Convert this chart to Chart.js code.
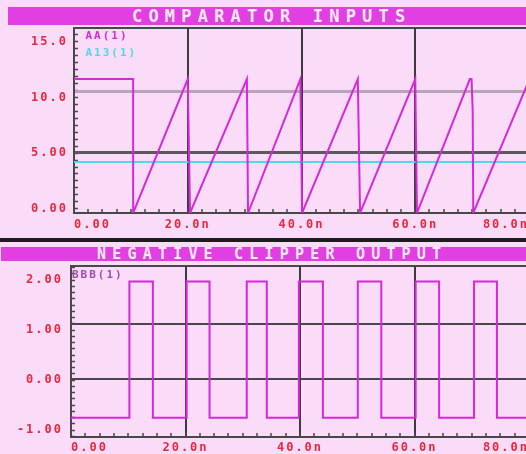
<!DOCTYPE html>
<html>
<head>
<meta charset="utf-8">
<script src="https://cdn.jsdelivr.net/npm/chart.js@4.4.0/dist/chart.umd.min.js"></script>
<style>
  body { margin: 0; background: #fadbf8; }
  #screen { position: relative; width: 526px; height: 454px; overflow: hidden; background: #fadbf8; }
  .bar { position: absolute; background: #e23fe2; color: #fde9fc; font-family: 'DejaVu Sans Mono', monospace; font-weight: bold; white-space: nowrap; }
  #bar1 { left: 8px; top: 7px; width: 518px; height: 18px; font-size: 17px; line-height: 18px; letter-spacing: 6.2px; padding-left: 124px; box-sizing: border-box; }
  #bar2 { left: 1px; top: 247px; width: 525px; height: 14px; font-size: 15px; line-height: 14px; letter-spacing: 6.2px; padding-left: 96px; box-sizing: border-box; }
  #sep { position: absolute; left: 0; top: 238px; width: 526px; height: 4px; background: #1c1c1c; }
  .scope { position: absolute; left: 0; }
  #top { top: 25px; }
  #bottom { top: 262px; }
</style>
</head>
<body>
<div id="screen">
  <div class="bar" id="bar1">COMPARATOR INPUTS</div>
  <div class="scope" id="top"><canvas id="topChart" width="529" height="212"></canvas></div>
  <div id="sep"></div>
  <div class="bar" id="bar2">NEGATIVE CLIPPER OUTPUT</div>
  <div class="scope" id="bottom"><canvas id="bottomChart" width="529" height="192"></canvas></div>
</div>
<script>
// time axis (ns)
const xTickValues = [0, 20, 40, 60, 80];
const xTickLabels = ['0.00', '20.0n', '40.0n', '60.0n', '80.0n'];

// AA(1) - ramp into the comparator
const aaTime = [0, 10.4, 10.4, 20.0, 20.4, 30.4, 30.6, 39.8, 40.1, 49.9, 50.3, 60.0, 60.3, 69.6, 69.9, 70.1, 70.2, 80];
const aaVolt = [11.0, 11.0, 0, 11.0, 0, 11.0, 0, 11.0, 0, 11.0, 0, 11.0, 0, 11.0, 11.0, 8.4, 0, 10.9];

// A13(1) - reference level
const refTime = [0, 80];
const refVolt = [4.2, 4.2];

// BBB(1) - clipper output
const outTime = [0, 10.2, 10.2, 14.3, 14.3, 20.2, 20.2, 24.2, 24.2, 30.7, 30.7, 34.2, 34.2, 39.8, 39.8, 44.0,
                 44.0, 50.1, 50.1, 54.2, 54.2, 60.2, 60.2, 64.3, 64.3, 70.4, 70.4, 74.4, 74.4, 80];
const outVolt = [-0.69, -0.69, 1.77, 1.77, -0.69, -0.69, 1.77, 1.77, -0.69, -0.69, 1.77, 1.77, -0.69, -0.69, 1.77, 1.77,
                 -0.69, -0.69, 1.77, 1.77, -0.69, -0.69, 1.77, 1.77, -0.69, -0.69, 1.77, 1.77, -0.69, -0.69];

// volt axis labels
const topYValues = [0, 5, 10, 15];
const topYLabels = ['0.00', '5.00', '10.0', '15.0'];
const botYValues = [-1, 0, 1, 2];
const botYLabels = ['-1.00', '0.00', '1.00', '2.00'];

const DARK = '#484848';
const RED = '#e8283e';
const FONT = 'DejaVu Sans Mono';

function pts(xs, ys) {
    return xs.map((x, i) => ({ x: x, y: ys[i] }));
}

function labelFor(values, labels) {
    return function (v) {
        const i = values.findIndex(t => Math.abs(t - v) < 1e-6);
        return i < 0 ? '' : labels[i];
    };
}

// the scope font is wide, space the canvas text out a bit
const spacedText = {
    id: 'spacedText',
    beforeDraw(chart) {
        chart.ctx.letterSpacing = '2px';
    }
};

// no extra room for labels, plot runs edge to edge like the scope screen
function noPad(s) {
    s.paddingLeft = 0;
    s.paddingRight = 0;
    s.paddingTop = 0;
    s.paddingBottom = 0;
}

function scopeChart(id, cfg) {
    const tickFont = { family: FONT, size: 12, weight: 'bold' };
    return new Chart(document.getElementById(id), {
        type: 'line',
        data: { datasets: cfg.datasets.map(ds => Object.assign({ xAxisID: 'x', yAxisID: 'y' }, ds)) },
        plugins: [spacedText],
        options: {
            responsive: false,
            animation: false,
            layout: { padding: { top: cfg.padTop, left: 0, right: 0, bottom: 0 } },
            elements: { point: { radius: 0 }, line: { borderWidth: 2, tension: 0 } },
            plugins: {
                tooltip: { enabled: false },
                legend: {
                    position: 'chartArea',
                    align: 'start',
                    labels: {
                        boxWidth: cfg.legBox,
                        boxHeight: 0,
                        padding: cfg.legPad,
                        font: { family: FONT, size: 11, weight: 'bold' },
                        generateLabels: chart => chart.data.datasets.map((ds, i) => ({
                            text: ds.label,
                            fontColor: ds.labelColor || ds.borderColor,
                            fillStyle: 'transparent',
                            strokeStyle: 'transparent',
                            lineWidth: 0,
                            hidden: false,
                            datasetIndex: i
                        }))
                    }
                }
            },
            scales: {
                // carries the labels and the little marks on the left edge
                lab: {
                    type: 'linear',
                    position: 'left',
                    weight: 1,
                    min: cfg.labMin,
                    max: cfg.labMax,
                    afterFit: s => { s.width = cfg.left; noPad(s); },
                    border: { display: false },
                    grid: { drawOnChartArea: false, drawTicks: true, tickLength: -4, tickColor: DARK, tickWidth: 1.5 },
                    ticks: {
                        stepSize: cfg.minorY,
                        includeBounds: false,
                        autoSkip: false,
                        padding: cfg.yPad,
                        color: RED,
                        font: tickFont,
                        callback: labelFor(cfg.yValues, cfg.yLabels)
                    }
                },
                // the data / grid scale
                y: {
                    type: 'linear',
                    position: 'left',
                    weight: 0,
                    min: cfg.yMin,
                    max: cfg.yMax,
                    afterFit: s => { s.width = 0; noPad(s); },
                    border: { display: true, color: DARK, width: 2 },
                    grid: {
                        drawTicks: false,
                        color: ctx => cfg.hColor(ctx.tick.value),
                        lineWidth: ctx => cfg.hWidth(ctx.tick.value)
                    },
                    ticks: { display: false, stepSize: cfg.gridStep }
                },
                x: {
                    type: 'linear',
                    position: 'bottom',
                    min: 0,
                    max: 80,
                    afterFit: s => { s.height = cfg.xHeight; noPad(s); },
                    border: { display: true, color: DARK, width: 2 },
                    grid: {
                        color: ctx => [20, 40, 60].includes(ctx.tick.value) ? '#3c3c3c' : 'transparent',
                        lineWidth: 2,
                        drawTicks: true,
                        tickLength: -4,
                        tickColor: DARK,
                        tickWidth: 1.5
                    },
                    ticks: {
                        stepSize: 2.5,
                        autoSkip: false,
                        maxRotation: 0,
                        align: 'inner',
                        padding: cfg.xPad,
                        color: RED,
                        font: tickFont,
                        callback: labelFor(xTickValues, xTickLabels)
                    }
                }
            }
        }
    });
}

scopeChart('topChart', {
    datasets: [
        { label: 'AA(1)', data: pts(aaTime, aaVolt), borderColor: '#d52ad9' },
        { label: 'A13(1)', data: pts(refTime, refVolt), borderColor: '#4fd9e6' }
    ],
    padTop: 3, left: 74, xHeight: 24, xPad: 9, yPad: 10,
    legPad: 6, legBox: 0,
    labMin: -0.38, labMax: 16.23, minorY: 0.625,
    yValues: topYValues, yLabels: topYLabels,
    yMin: 0, yMax: 15.2, gridStep: 5,
    hColor: v => v > 15.1 ? DARK : v === 5 ? '#5a5a5a' : v === 10 ? '#b8a4b8' : 'transparent',
    hWidth: v => v === 5 || v === 10 ? 3 : 2
});

scopeChart('bottomChart', {
    datasets: [
        { label: 'BBB(1)', data: pts(outTime, outVolt), borderColor: '#d42ad8', labelColor: '#a24cb2' }
    ],
    padTop: 4, left: 71, xHeight: 17, xPad: 8, yPad: 12,
    legPad: 7.5, legBox: -12,
    labMin: -1.14, labMax: 2.28, minorY: 0.125,
    yValues: botYValues, yLabels: botYLabels,
    yMin: -1.04, yMax: 2.05, gridStep: 1,
    hColor: v => v > 2.02 || v === 0 || v === 1 ? DARK : 'transparent',
    hWidth: v => 2
});
</script>
</body>
</html>
